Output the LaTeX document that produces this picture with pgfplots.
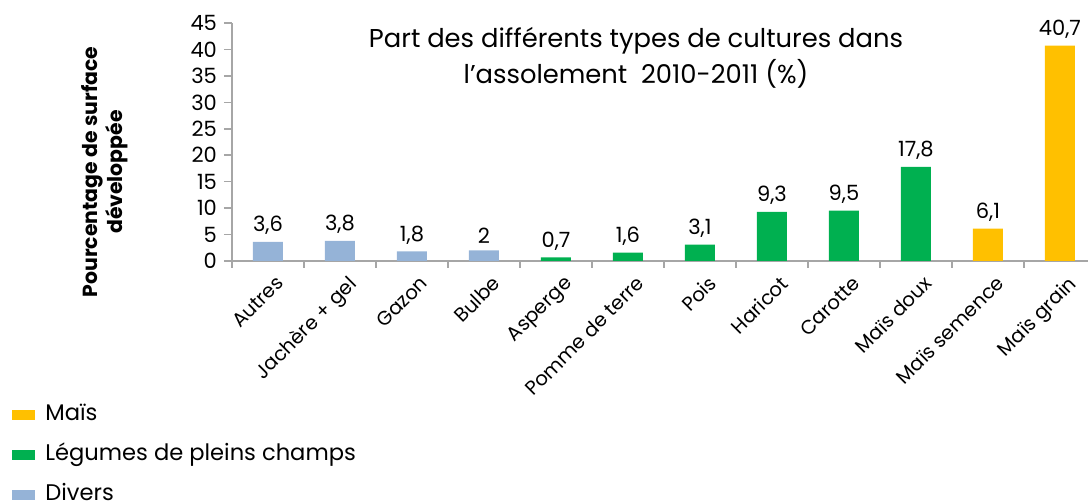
\documentclass[border=0pt]{standalone}
\usepackage{pgfplots}
\pgfplotsset{compat=1.18}
\usepackage{fontspec}
\setmainfont{Poppins}
\definecolor{divers}{HTML}{95B3D7}
\definecolor{legumes}{HTML}{00B050}
\definecolor{mais}{HTML}{FFC000}
\definecolor{axgray}{HTML}{A6A6A6}
\begin{document}
\begin{tikzpicture}
\useasboundingbox (0,0) rectangle (544pt,250.5pt);
\begin{axis}[
  at={(116pt,120pt)}, anchor=south west,
  scale only axis, width=428pt, height=119pt,
  xmin=-0.5, xmax=11.39, ymin=0, ymax=45,
  axis x line*=bottom, axis y line*=left,
  axis line style={draw=axgray, line width=0.8pt, -},
  ytick={0,5,...,45},
  xtick={0,...,11},
  xticklabels={Autres, Jachère + gel, Gazon, Bulbe, Asperge, Pomme de terre, Pois, Haricot, Carotte, Maïs doux, Maïs semence, Maïs grain},
  minor xtick={-0.5,0.5,...,10.5},
  major x tick style={draw=none},
  tick style={draw=axgray, line width=0.8pt},
  tick align=outside,
  major tick length=4pt, minor tick length=3.5pt,
  /pgf/number format/assume math mode=true,
  /pgf/number format/use comma,
  /pgf/number format/fixed, /pgf/number format/precision=1,
  yticklabel style={font=\fontsize{10.5}{12}\selectfont},
  xticklabel style={font=\fontsize{9.8}{11}\selectfont, rotate=45, anchor=north east, xshift=4pt, yshift=-1pt},
  ybar, bar width=15pt, bar shift=0pt,
  nodes near coords,
  every node near coord/.append style={font=\fontsize{10.5}{12}\selectfont, black},
  legend style={at={(axis description cs:-0.257,-0.6)}, anchor=north west,
    draw=none, fill=none, inner sep=0pt, row sep=9.5pt,
    nodes={text height=8pt, text depth=2.5pt, inner sep=0pt, font=\fontsize{11.3}{13}\selectfont}},
  legend cell align=left,
  legend image code/.code={\draw[#1,draw=none] (0pt,-2.5pt) rectangle (11.5pt,2.5pt);},
]
\addplot[fill=mais, draw=none] coordinates {(10,6.1) (11,40.7)};
\addlegendentry{\hspace{5pt}Maïs}
\addplot[fill=legumes, draw=none] coordinates {(4,0.7) (5,1.6) (6,3.1) (7,9.3) (8,9.5) (9,17.8)};
\addlegendentry{\hspace{5pt}Légumes de pleins champs}
\addplot[fill=divers, draw=none] coordinates {(0,3.6) (1,3.8) (2,1.8) (3,2)};
\addlegendentry{\hspace{5pt}Divers}
\end{axis}
\node[align=center, font=\fontsize{12.9}{18}\selectfont] at (318pt,221.5pt) {Part des différents types de cultures dans\\l’assolement~~2010-2011 (\%)};
\node[rotate=90, align=center, font=\bfseries\fontsize{10.2}{12.5}\selectfont] at (52.5pt,164.5pt) {Pourcentage de surface\\développée};
\end{tikzpicture}
\end{document}
